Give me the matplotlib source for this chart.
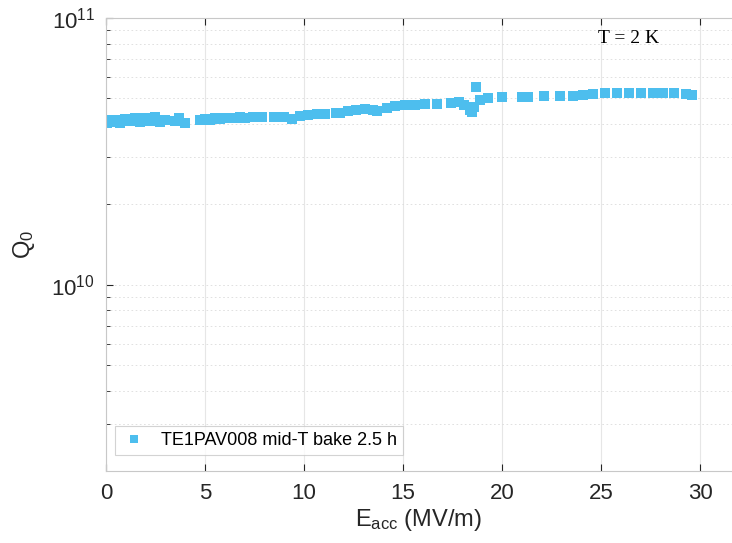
import matplotlib
matplotlib.use('Agg')
import matplotlib.pyplot as plt
from matplotlib.ticker import LogLocator, NullFormatter

# Eacc (MV/m) and Q0 (x1e10)
e_acc = [0.0, 0.05, 0.2, 0.45, 0.7, 0.96, 1.2, 1.46, 1.7, 1.97, 2.2, 2.47,
         2.73, 3.0, 3.5, 3.7, 4.0, 4.75, 5.0, 5.25, 5.5, 5.76, 6.0, 6.26,
         6.5, 6.77, 7.0, 7.4, 7.9, 8.5, 9.0, 9.4, 9.8, 10.2, 10.65, 11.06,
         11.6, 11.8, 12.2, 12.6, 13.1, 13.5, 13.7, 14.2, 14.6, 15.1, 15.6,
         16.1, 16.7, 17.4, 17.8, 18.1, 18.4, 18.5, 18.6, 18.7, 18.9, 19.3,
         20.0, 21.0, 21.3, 22.1, 22.9, 23.6, 24.1, 24.6, 25.2, 25.8, 26.4,
         27.0, 27.6, 28.1, 28.7, 29.3, 29.6]
q0 = [4.15, 4.05, 4.08, 4.15, 4.05, 4.18, 4.10, 4.20, 4.08, 4.22, 4.12, 4.24,
      4.08, 4.15, 4.12, 4.20, 4.05, 4.15, 4.18, 4.15, 4.20, 4.18, 4.20, 4.22,
      4.20, 4.24, 4.22, 4.24, 4.24, 4.26, 4.26, 4.18, 4.30, 4.33, 4.36, 4.38,
      4.42, 4.40, 4.48, 4.50, 4.55, 4.52, 4.48, 4.60, 4.66, 4.70, 4.72,
      4.74, 4.76, 4.78, 4.85, 4.72, 4.52, 4.45, 4.62, 5.51, 4.93, 5.01,
      5.06, 5.06, 5.06, 5.08, 5.10, 5.10, 5.15, 5.19, 5.24, 5.24, 5.24,
      5.24, 5.24, 5.24, 5.24, 5.20, 5.15]
q0 = [v * 1e10 for v in q0]

label = 'TE1PAV008 mid-T bake 2.5 h'
color = '#4DBEEE'

plt.rcParams['font.family'] = ['Liberation Sans', 'DejaVu Sans']
plt.rcParams['mathtext.fontset'] = 'custom'
plt.rcParams['mathtext.rm'] = 'Liberation Sans'
plt.rcParams['mathtext.it'] = 'Liberation Sans'

fig = plt.figure(figsize=(7.32, 5.43), dpi=100)
ax = fig.add_axes([0.1448, 0.1326, 0.855, 0.8343])

ax.plot(e_acc, q0, linestyle='none', marker='s', markersize=6.5,
        color=color, markeredgewidth=0, label=label)

ax.set_yscale('log')
ax.set_xlim(0, 31.6)
ax.set_ylim(2e9, 1e11)
ax.set_xticks([0, 5, 10, 15, 20, 25, 30])
ax.yaxis.set_major_locator(LogLocator(base=10))
ax.yaxis.set_minor_locator(LogLocator(base=10, subs=range(2, 10)))
ax.yaxis.set_minor_formatter(NullFormatter())

ax.grid(True, axis='x', which='major', color='#e6e6e6', linewidth=0.8)
ax.grid(True, axis='y', which='both', color='#dcdcdc', linestyle=(0, (2, 3)),
        linewidth=0.6)
ax.set_axisbelow(True)

for side in ['top', 'bottom', 'left', 'right']:
    ax.spines[side].set_color('#c8c8c8')
ax.spines['right'].set_visible(False)

ax.tick_params(axis='both', which='both', direction='in', top=True,
               labelsize=16, colors='#262626', length=5)
ax.tick_params(axis='y', which='minor', length=3)
ax.tick_params(axis='x', pad=9)
ax.tick_params(axis='y', pad=8)

ax.set_xlabel(r'E$_{\mathrm{acc}}$ (MV/m)', fontsize=17, color='#262626',
              labelpad=2)
ax.set_ylabel(r'Q$_0$', fontsize=17, color='#262626', labelpad=10)

ax.text(0.835, 0.955, 'T = 2 K', transform=ax.transAxes, ha='center',
        va='center', fontsize=14, family=['Liberation Serif', 'DejaVu Serif'])

leg = ax.legend(loc='lower left', fontsize=13, frameon=True, fancybox=False,
                borderaxespad=0.5, handlelength=1.4, handletextpad=0.8,
                markerscale=0.85, borderpad=0.35,
                bbox_to_anchor=(0.0, 0.015))
leg.get_frame().set_edgecolor('#c8c8c8')
leg.get_frame().set_linewidth(0.8)

fig.savefig('out.png', dpi=100)
